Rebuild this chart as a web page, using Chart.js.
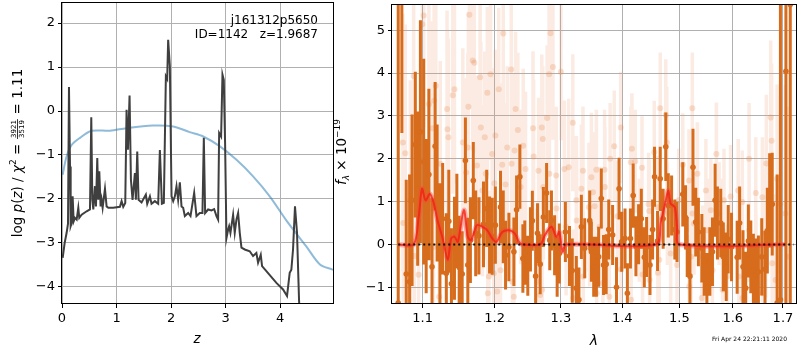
<!DOCTYPE html>
<html>
<head>
<meta charset="utf-8">
<script src="https://cdn.jsdelivr.net/npm/chart.js@4.4.1/dist/chart.umd.min.js"></script>
<style>
  body { margin: 0; background: #fff; width: 800px; height: 350px; position: relative; overflow: hidden; }
  #pz { position: absolute; left: 0; top: 0; }
  #spec { position: absolute; left: 325px; top: 0; }
</style>
</head>
<body>
<canvas id="pz" width="340" height="350"></canvas>
<canvas id="spec" width="475" height="350"></canvas>
<script>
// ---- left panel: p(z) ----
const Z_TICKS = [0, 1, 2, 3, 4];
const PZ_TICKS = [-4, -3, -2, -1, 0, 1, 2];

const Z = [0.012,0.049,0.085,0.11,0.128,0.147,0.159,0.177,0.195,0.214,
  0.238,0.269,0.299,0.317,0.36,0.452,0.513,0.537,0.556,0.574,
  0.604,0.623,0.647,0.665,0.684,0.708,0.726,0.745,0.788,0.818,
  0.849,0.94,1.062,1.093,1.123,1.16,1.184,1.209,1.239,1.264,
  1.294,1.337,1.355,1.38,1.404,1.459,1.538,1.563,1.612,1.642,
  1.703,1.764,1.795,1.832,1.868,1.905,1.929,1.947,1.978,2.009,
  2.039,2.07,2.1,2.13,2.161,2.192,2.222,2.253,2.314,2.357,
  2.424,2.466,2.527,2.576,2.601,2.625,2.68,2.741,2.79,2.833,
  2.863,2.882,2.918,2.943,2.967,2.991,3.016,3.046,3.065,3.089,
  3.138,3.168,3.199,3.23,3.26,3.291,3.352,3.443,3.504,3.565,
  3.596,3.645,3.669,3.748,3.932,4.054,4.127,4.176,4.206,4.237,
  4.273,4.31,4.347,4.371,4.42];
const LOG_PZ = [-3.34,-3.0,-2.77,-2.56,0.545,-1.26,-2.62,-2.55,-1.94,-2.51,
  -2.43,-2.47,-2.2,-2.43,-2.36,-2.28,-2.24,-0.14,-2.02,-2.24,
  -1.71,-2.17,-1.07,-2.02,-1.37,-2.17,-2.02,-2.2,-1.77,-2.17,
  -2.2,-2.2,-2.18,-2.05,-2.18,-2.09,0.03,-0.88,0.35,-1.56,
  -2.02,-1.41,-2.02,-0.92,-2.02,-2.08,-1.9,-2.11,-1.94,-2.11,
  -2.05,-2.11,-0.89,-2.11,-2.09,0.79,0.73,1.62,1.02,-1.94,
  -2.05,-1.94,-1.71,-2.02,-1.62,-2.17,-2.2,-2.39,-2.32,-2.39,
  -1.86,-2.39,-2.32,-2.32,-0.61,-2.32,-2.24,-2.26,-2.23,-2.39,
  -2.47,-0.5,-0.58,0.83,0.71,-0.73,-2.89,-2.7,-2.62,-2.77,
  -2.36,-2.77,-2.47,-2.32,-2.77,-3.11,-3.15,-3.19,-3.3,-3.23,
  -3.45,-3.27,-3.53,-3.64,-3.91,-4.06,-4.21,-3.68,-3.61,-3.15,
  -2.17,-2.77,-4.29,-5.05,-6.56];

const CHI_Z = [0.012,0.085,0.177,0.33,0.543,0.88,1.18,1.67,2.04,2.34,2.59,2.89,3.2,3.5,3.81,4.11,4.48,4.73,4.97];
const CHI_V = [-1.45,-1.03,-0.77,-0.61,-0.45,-0.45,-0.39,-0.33,-0.35,-0.48,-0.58,-0.80,-1.11,-1.48,-1.94,-2.48,-3.08,-3.49,-3.61];

// ---- right panel: spectrum ----
const LAM_TICKS = [1.1, 1.2, 1.3, 1.4, 1.5, 1.6, 1.7];
const F_TICKS = [-1, 0, 1, 2, 3, 4, 5];

const LAM = [1.068,1.0727,1.0784,1.0828,1.086,1.0903,1.0934,1.097,1.1014,1.1047,
  1.1083,1.1125,1.1167,1.1194,1.1232,1.1269,1.1319,1.1353,1.1389,1.1431,
  1.1464,1.1496,1.1538,1.1583,1.1617,1.1653,1.1694,1.1728,1.1774,1.1839,
  1.1885,1.1926,1.1964,1.201,1.2085,1.2125,1.2159,1.2208,1.2282,1.2322,
  1.2371,1.2416,1.2445,1.249,1.253,1.2559,1.2609,1.2638,1.2678,1.2727,
  1.2777,1.2826,1.2852,1.2901,1.2941,1.2975,1.307,1.3135,1.3179,1.3244,
  1.3286,1.3325,1.3379,1.346,1.3487,1.3525,1.3569,1.3606,1.365,1.3687,
  1.3731,1.3773,1.3838,1.3903,1.3946,1.399,1.4047,1.4087,1.4139,1.4186,
  1.4233,1.4279,1.4326,1.4378,1.4418,1.4477,1.4523,1.4557,1.461,1.4657,
  1.4709,1.4756,1.4801,1.486,1.4918,1.4958,1.5062,1.5113,1.5143,1.5193,
  1.5249,1.53,1.5349,1.5413,1.5456,1.5507,1.5563,1.5612,1.5662,1.5706,
  1.5769,1.5818,1.5874,1.5912,1.5976,1.6085,1.6133,1.6199,1.6252,1.6304,
  1.6352,1.6403,1.6451,1.6503,1.657,1.6636,1.6682,1.6729,1.6781,1.6881,
  1.6948,1.7061,1.7151];
const FLUX = [-1.37,6.5,-0.69,-0.87,1.03,2.33,1.3,2.63,1.93,0.66,
  1.63,-0.52,2.29,1.2,-0.07,0.6,-0.67,0.54,-0.92,-0.09,
  0.55,-0.53,-0.69,1.96,-0.48,0.1,1.49,0.26,0.2,0.47,
  0.84,0.22,0.19,0.45,0.87,0.41,-0.25,-0.06,-0.17,0.81,
  1.58,-0.33,-0.19,-0.5,0.12,0.55,-0.74,0.26,-0.46,0.64,
  1.2,0.1,0.56,-0.02,-0.52,-0.21,0.29,-0.27,-0.61,-1.02,
  -1.29,0.41,-0.09,0.56,-0.17,-0.52,-0.52,-0.29,1.07,-0.48,
  -0.46,0.35,0.22,-1.0,1.3,0.06,0.14,-1.14,0.14,1.14,
  -0.04,0.24,0.6,-0.3,-0.06,-0.48,0.35,1.58,0.08,1.53,
  0.6,2.28,0.91,0.91,0.35,0.29,1.17,0.63,-0.06,-0.74,
  1.8,0.52,0.29,-0.09,-0.4,-1.0,-0.4,-0.17,1.03,0.5,
  0.5,-0.29,-0.52,0.12,-0.06,-0.3,0.5,-0.52,-1.02,0.08,
  -0.29,-0.6,-0.71,-0.64,-0.29,-0.58,0.32,1.03,0.94,-1.37,
  -1.29,4.04,5.6];
const ERR = [7.0,3.9,2.2,2.5,2.0,1.7,1.8,2.6,2.4,1.8,
  2.0,1.6,1.5,1.6,1.5,1.3,1.4,1.2,1.3,1.2,
  1.1,1.2,1.0,1.0,1.1,1.0,0.9,1.0,0.9,1.0,
  0.9,0.9,0.9,0.9,0.85,0.85,0.8,0.8,0.8,0.8,
  0.75,0.8,0.75,0.7,0.75,0.7,0.75,0.7,0.7,0.7,
  0.7,0.7,0.7,0.7,0.7,0.7,0.7,0.7,0.75,0.75,
  0.75,0.75,0.7,0.7,0.7,0.7,0.7,0.7,0.7,0.7,
  0.7,0.7,0.7,0.7,0.72,0.7,0.7,0.7,0.7,0.75,
  0.7,0.7,0.7,0.7,0.7,0.7,0.7,0.7,0.7,0.75,
  0.7,0.8,0.75,0.7,0.7,0.7,0.75,0.75,0.7,0.75,
  0.9,0.8,0.8,0.8,0.8,0.8,0.8,0.8,0.85,0.85,
  0.8,0.8,0.8,0.8,0.8,0.85,0.85,0.85,0.85,0.85,
  0.85,0.85,0.85,0.85,0.9,0.9,1.0,1.1,1.2,3.0,
  7.0,8.0,8.0];

// second (faded) set of spectra
const FADE_LAM = [1.074,1.0745,1.0771,1.0837,1.0881,1.089,1.0947,1.0995,1.1014,1.1083,
  1.1131,1.1144,1.1153,1.1176,1.1222,1.1236,1.1329,1.1335,1.1347,1.1408,
  1.1431,1.1547,1.1593,1.1617,1.1625,1.1639,1.1686,1.1708,1.1746,1.1791,
  1.1801,1.1825,1.1857,1.1871,1.1894,1.19,1.1917,1.194,1.1964,1.1986,
  1.1996,1.201,1.2036,1.2059,1.2085,1.211,1.2125,1.2159,1.2184,1.2243,
  1.2248,1.2258,1.2282,1.2292,1.2307,1.2341,1.2381,1.2421,1.2456,1.2569,
  1.2578,1.2629,1.2653,1.2678,1.2703,1.2708,1.2718,1.2727,1.2786,1.2816,
  1.282,1.2837,1.2875,1.2926,1.293,1.3,1.3054,1.3081,1.3123,1.3188,
  1.3193,1.3244,1.325,1.3325,1.3351,1.3356,1.3448,1.346,1.3487,1.3513,
  1.3541,1.3569,1.3574,1.3622,1.3676,1.3704,1.371,1.3784,1.3796,1.3865,
  1.3919,1.3974,1.3979,1.4146,1.4151,1.4164,1.4221,1.4291,1.4338,1.4348,
  1.4453,1.4465,1.447,1.4552,1.461,1.4615,1.464,1.4657,1.4756,1.4774,
  1.4784,1.4843,1.4958,1.4988,1.5062,1.5175,1.518,1.5212,1.5236,1.524,
  1.5268,1.533,1.5411,1.543,1.5488,1.5518,1.5582,1.5612,1.5686,1.5738,
  1.58,1.5805,1.5831,1.5894,1.5957,1.6105,1.6119,1.6185,1.619,1.6318,
  1.632,1.6451,1.6456,1.6583,1.6588,1.665,1.6662,1.675,1.6769,1.6781,
  1.6849,1.6881,1.6948,1.7049,1.7117];
const FADE_FLUX = [2.38,0.5,2.13,1.03,3.93,-0.27,-0.71,5.14,5.34,3.27,
  2.71,-0.06,3.35,3.7,-1.22,1.88,3.16,2.69,2.5,3.48,
  3.62,2.38,1.68,2.26,3.21,5.36,4.29,4.24,1.84,3.9,
  2.73,1.26,2.5,1.65,3.54,-1.14,-0.75,3.97,2.11,-0.67,
  1.43,2.54,-1.1,3.62,-0.6,1.86,4.92,1.4,2.26,4.08,
  1.88,-0.87,-1.22,2.19,3.16,2.67,1.34,2.3,1.76,2.71,
  2.05,-0.87,1.72,-1.18,2.73,-1.06,2.46,1.34,2.95,3.97,
  1.65,4.93,4.14,1.61,0.84,4.03,1.76,0.41,1.8,2.84,
  -1.25,1.03,0.56,1.3,1.72,-0.75,0.87,0.52,1.57,1.22,
  0.89,1.74,-1.14,0.41,-0.9,1.74,1.34,-1.22,2.0,2.29,
  0.66,2.73,-0.58,1.92,-1.29,2.23,1.94,0.33,1.79,-0.7,
  0.94,0.78,-0.83,2.15,0.87,-0.66,-0.36,3.18,3.02,2.38,
  0.72,-0.21,-0.48,1.03,1.86,1.49,-0.98,-0.29,3.18,0.72,
  0.49,1.65,-1.25,-0.29,1.26,0.33,0.8,-0.6,2.11,0.72,
  0.33,-1.06,1.03,-0.75,1.12,1.26,-0.75,0.99,-1.25,2.0,
  0.33,1.2,-0.6,1.1,-1.14,0.26,1.89,2.96,2.42,-0.44,
  -0.83,1.53,0.95,0.72,-0.29];
const FADE_ERR = [3.0,3.0,3.0,2.8,2.8,2.8,2.6,2.6,2.6,2.5,
  2.5,2.5,2.5,2.4,2.4,2.4,2.3,2.3,2.3,2.3,
  2.2,2.2,2.2,2.2,2.2,2.2,2.1,2.1,2.1,2.1,
  2.0,2.0,2.0,2.0,2.0,2.0,2.0,2.0,2.0,2.0,
  2.0,2.0,1.9,1.9,1.9,1.9,1.9,1.9,1.9,1.9,
  1.8,1.8,1.8,1.8,1.8,1.8,1.8,1.8,1.8,1.8,
  1.8,1.7,1.7,1.7,1.7,1.7,1.7,1.7,1.7,1.7,
  1.7,1.7,1.7,1.6,1.6,1.6,1.6,1.6,1.6,1.6,
  1.6,1.5,1.5,1.5,1.5,1.5,1.5,1.5,1.5,1.4,
  1.4,1.4,1.4,1.4,1.4,1.4,1.4,1.3,1.3,1.3,
  1.3,1.3,1.3,1.3,1.3,1.3,1.2,1.2,1.2,1.2,
  1.2,1.2,1.2,1.2,1.2,1.2,1.2,1.3,1.3,1.3,
  1.2,1.2,1.2,1.2,1.2,1.2,1.2,1.2,1.3,1.2,
  1.2,1.2,1.2,1.2,1.2,1.2,1.2,1.2,1.2,1.2,
  1.2,1.2,1.2,1.2,1.2,1.2,1.2,1.2,1.2,1.3,
  1.2,1.3,1.3,1.4,1.4,1.5,1.6,1.8,1.8,1.8,
  2.0,2.2,2.5,3.0,3.5];

// best-fit template
const MODEL_LAM = [1.068,1.0881,1.0947,1.0992,1.1038,1.1097,1.1144,1.12,1.1269,1.1339,
  1.1385,1.1431,1.1478,1.1561,1.1617,1.1663,1.1746,1.1825,1.1894,1.1964,
  1.2025,1.211,1.2208,1.2292,1.2356,1.2406,1.2678,1.2752,1.2852,1.2926,
  1.2975,1.3026,1.3081,1.4581,1.4668,1.4744,1.4801,1.4843,1.4918,1.4958,
  1.5,1.7049];
const MODEL_FLUX = [0,0,0.64,1.3,1.03,1.18,0.99,0.56,0.14,-0.36,
  0.14,0.18,0.06,0.8,0.18,0.1,0.45,0.41,0.33,0.14,
  0.06,0.29,0.33,0.26,0.06,0,0,0.22,0.41,0.18,
  0.29,-0.17,0,0,0.52,0.95,1.26,0.95,0.87,0.41,
  0,0];

const FONT = '"DejaVu Sans", sans-serif';
Chart.defaults.font.family = FONT;
Chart.defaults.font.size = 13;
Chart.defaults.color = '#000';

const minus = v => (v < 0 ? '\u2212' + Math.abs(v) : String(v));
const pts = (xs, ys) => xs.map((x, i) => ({ x, y: ys[i] }));

// error bars as broken line segments
function errSegments(xs, ys, es) {
  const out = [];
  xs.forEach((x, i) => {
    out.push({ x, y: ys[i] - es[i] }, { x, y: ys[i] + es[i] }, { x, y: null });
  });
  return out;
}

function axis(min, max, ticks, fmt, fit) {
  return {
    type: 'linear', min, max,
    afterBuildTicks: s => { s.ticks = ticks.map(v => ({ value: v })); },
    afterFit: s => {
      fit(s);
      s.paddingTop = 0; s.paddingBottom = 0; s.paddingLeft = 0; s.paddingRight = 0;
    },
    grid: { color: '#b0b0b0', lineWidth: 1, tickColor: '#000', tickLength: 4 },
    border: { display: false },
    ticks: { color: '#000', font: { size: 13 }, padding: 3, maxRotation: 0, autoSkip: false, callback: fmt }
  };
}

// draw a rotated label made of pieces (plain, italic, sub/superscripts, fraction)
function rotLabel(c, bx, cy, pieces) {
  c.save();
  c.translate(bx, cy);
  c.rotate(-Math.PI / 2);
  let total = 0;
  pieces.forEach(p => {
    c.font = p.f;
    p.w = p.frac ? Math.max(c.measureText(p.frac[0]).width, c.measureText(p.frac[1]).width) + 3 : c.measureText(p.t).width;
    total += p.w;
  });
  let x = -total / 2;
  c.fillStyle = '#000';
  c.textBaseline = 'alphabetic';
  pieces.forEach(p => {
    c.font = p.f;
    if (p.frac) {
      c.textAlign = 'center';
      c.fillText(p.frac[0], x + p.w / 2, -6);
      c.fillText(p.frac[1], x + p.w / 2, 2);
      c.fillRect(x + 0.5, -5, p.w - 1, 0.8);
    } else {
      c.textAlign = 'left';
      c.fillText(p.t, x, p.dy || 0);
    }
    x += p.w;
  });
  c.restore();
}

const spine = c => {
  const a = c.chartArea, ctx = c.ctx;
  ctx.save();
  ctx.strokeStyle = '#000';
  ctx.lineWidth = 1;
  ctx.strokeRect(a.left - 0.5, a.top + 0.5, a.right - a.left + 1, a.bottom - a.top - 1);
  ctx.restore();
};

const N = '13.5px ' + FONT, I = 'italic 13.5px ' + FONT, S = '9px ' + FONT, SI = 'italic 9px ' + FONT;

const leftDecor = {
  id: 'leftDecor',
  afterDraw(chart) {
    spine(chart);
    const c = chart.ctx;
    c.save();
    c.fillStyle = '#000';
    c.font = '12px ' + FONT;
    c.textAlign = 'right';
    c.fillText('j161312p5650', 318, 24);
    c.fillText('ID=1142   z=1.9687', 318, 38);
    c.textAlign = 'center';
    c.font = I;
    c.fillText('z', 197, 343);
    c.restore();
    rotLabel(c, 22, 153, [
      { t: 'log ', f: N }, { t: 'p', f: I }, { t: '(', f: N }, { t: 'z', f: I }, { t: ') / ', f: N },
      { t: '\u03c7', f: I }, { t: '2', f: S, dy: -6 }, { t: ' = ', f: N },
      { frac: ['3921', '3519'], f: '7px ' + FONT }, { t: ' = 1.11', f: N }
    ]);
  }
};

const rightDecor = {
  id: 'rightDecor',
  afterDraw(chart) {
    spine(chart);
    const c = chart.ctx;
    c.save();
    c.fillStyle = '#000';
    c.font = 'italic 14px ' + FONT;
    c.textAlign = 'center';
    c.fillText('\u03bb', 594 - 325, 345);
    c.font = '6px ' + FONT;
    c.textAlign = 'right';
    c.fillText('Fri Apr 24 22:21:11 2020', 787 - 325, 341);
    c.restore();
    rotLabel(c, 20.5, 152, [
      { t: 'f', f: I }, { t: '\u03bb', f: SI, dy: 3 }, { t: ' \u00d7 10', f: N }, { t: '\u221219', f: S, dy: -6 }
    ]);
  }
};

new Chart(document.getElementById('pz'), {
  type: 'scatter',
  data: {
    datasets: [
      { data: pts(Z, LOG_PZ), showLine: true, borderColor: '#3f3f3f', borderWidth: 2, pointRadius: 0, order: 0 },
      { data: pts(CHI_Z, CHI_V), showLine: true, borderColor: 'rgba(31,119,180,0.5)', borderWidth: 2, pointRadius: 0, tension: 0.3, order: 1 }
    ]
  },
  options: {
    responsive: false, animation: false, events: [],
    layout: { padding: { top: 2, right: 7, left: 0, bottom: 0 } },
    plugins: { legend: { display: false }, tooltip: { enabled: false } },
    scales: {
      x: axis(0, 4.97, Z_TICKS, v => minus(v), s => { s.height = 46; }),
      y: axis(-4.39, 2.48, PZ_TICKS, v => minus(v), s => { s.width = 62; })
    }
  },
  plugins: [leftDecor]
});

const dark = 'rgb(214,108,28)';
const lamAxis = axis(1.06, 1.727, LAM_TICKS, v => Number(v).toFixed(1), s => { s.height = 46; });
lamAxis.type = 'logarithmic';

new Chart(document.getElementById('spec'), {
  type: 'scatter',
  data: {
    datasets: [
      { type: 'line', data: [{ x: 1.068, y: 0 }, { x: 1.722, y: 0 }], borderColor: '#111', borderWidth: 2, borderDash: [2, 3], pointRadius: 0, order: 0 },
      { type: 'line', data: pts(MODEL_LAM, MODEL_FLUX), borderColor: 'rgba(240,30,15,0.75)', borderWidth: 2, pointRadius: 0, tension: 0.3, order: 1 },
      { type: 'line', data: pts(MODEL_LAM, MODEL_FLUX), borderColor: 'rgba(255,70,60,0.4)', borderWidth: 5, pointRadius: 0, tension: 0.3, order: 2 },
      { data: pts(LAM, FLUX), pointRadius: 2.8, backgroundColor: dark, borderWidth: 0, order: 3 },
      { type: 'line', data: errSegments(LAM, FLUX, ERR), borderColor: dark, borderWidth: 3, pointRadius: 0, spanGaps: false, order: 4 },
      { data: pts(FADE_LAM, FADE_FLUX), pointRadius: 3, backgroundColor: 'rgba(230,130,70,0.25)', borderWidth: 0, order: 5 },
      { type: 'line', data: errSegments(FADE_LAM, FADE_FLUX, FADE_ERR), borderColor: 'rgba(236,150,100,0.19)', borderWidth: 3.5, pointRadius: 0, spanGaps: false, order: 6 }
    ]
  },
  options: {
    responsive: false, animation: false, events: [],
    layout: { padding: { top: 2, right: 2, left: 0, bottom: 0 } },
    plugins: { legend: { display: false }, tooltip: { enabled: false } },
    scales: {
      x: lamAxis,
      y: axis(-1.39, 5.61, F_TICKS, v => minus(v), s => { s.width = 67; })
    }
  },
  plugins: [rightDecor]
});
</script>
</body>
</html>
